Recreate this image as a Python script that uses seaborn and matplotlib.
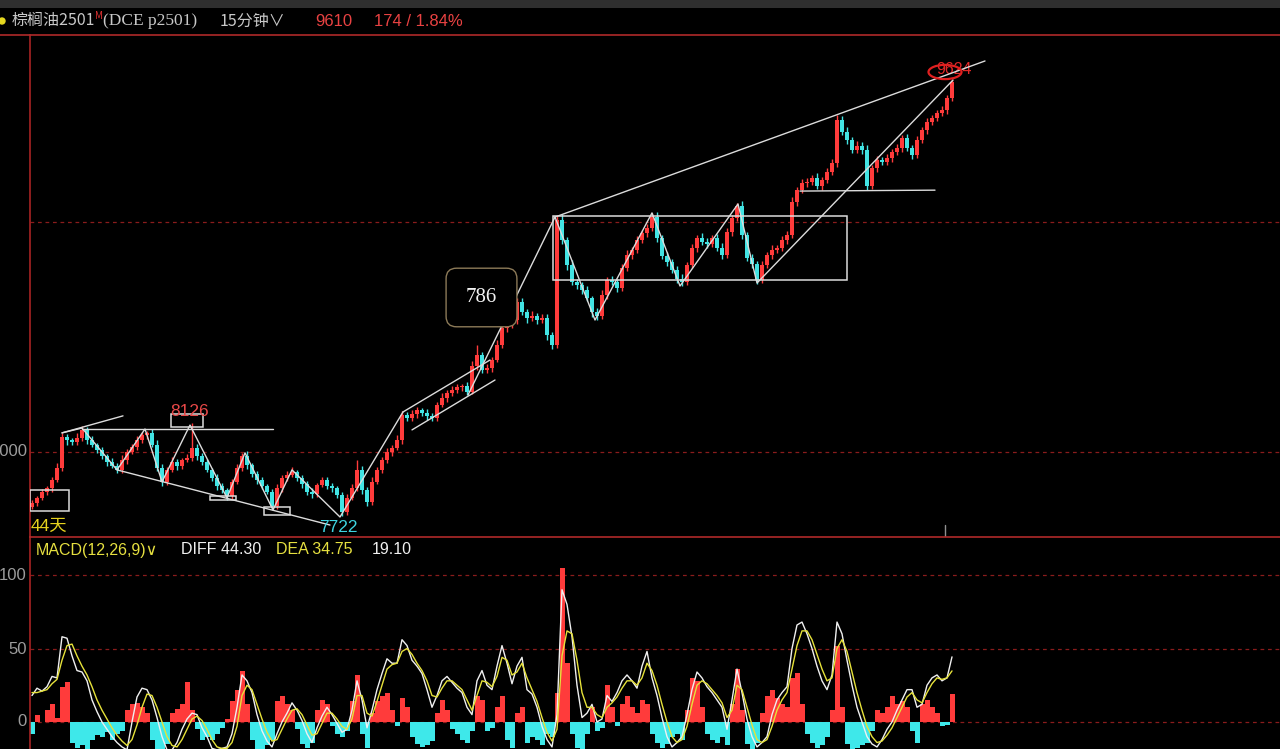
import numpy as np
import pandas as pd
import matplotlib
matplotlib.use("Agg")
import matplotlib.pyplot as plt
import seaborn as sns
from matplotlib.patches import Rectangle, Ellipse
from matplotlib.lines import Line2D

# ---------------- data ----------------
first_open = 7760
closes = [
    7778, 7800, 7826, 7843, 7878, 7930, 8065, 8052, 8044, 8061,
    8096, 8052, 8030, 8009, 7983, 7956, 7939, 7922, 7965, 8000,
    8022, 8052, 8074, 8083, 8030, 7930, 7869, 7922, 7956, 7939,
    7965, 7974, 8017, 7983, 7956, 7922, 7887, 7852, 7835, 7809,
    7869, 7930, 7983, 7943, 7904, 7878, 7852, 7826, 7765, 7843,
    7887, 7900, 7913, 7887, 7861, 7826, 7817, 7856, 7878, 7852,
    7843, 7813, 7739, 7800, 7843, 7922, 7835, 7782, 7869, 7922,
    7965, 8000, 8017, 8052, 8161, 8148, 8165, 8183, 8170, 8157,
    8148, 8204, 8235, 8257, 8270, 8283, 8287, 8261, 8374, 8422,
    8357, 8365, 8400, 8465, 8539, 8552, 8574, 8653, 8609, 8583,
    8592, 8574, 8583, 8509, 8465, 9009, 8922, 8813, 8740, 8726,
    8705, 8670, 8609, 8592, 8683, 8748, 8740, 8713, 8800, 8857,
    8879, 8922, 8953, 8974, 9022, 8931, 8853, 8827, 8792, 8753,
    8740, 8813, 8887, 8931, 8914, 8905, 8931, 8887, 8857, 8957,
    9018, 9070, 8944, 8844, 8818, 8748, 8813, 8857, 8879, 8887,
    8922, 8944, 9088, 9140, 9170, 9175, 9192, 9157, 9183, 9218,
    9257, 9444, 9392, 9357, 9314, 9331, 9314, 9157, 9235, 9270,
    9262, 9279, 9305, 9322, 9366, 9322, 9292, 9357, 9401, 9436,
    9453, 9475, 9488, 9540, 9610,
]
wick_up = [
    12, 10, 15, 8, 14, 20, 18, 15, 10, 22,
    15, 12, 18, 10, 14, 9, 16, 12, 20, 15,
    12, 18, 14, 10, 16, 22, 18, 14, 20, 12,
    10, 15, 109, 18, 12, 14, 10, 16, 12, 9,
    14, 18, 12, 20, 10, 12, 15, 10, 14, 18,
    12, 16, 20, 10, 14, 12, 18, 10, 15, 12,
    14, 10, 12, 15, 18, 43, 16, 12, 20, 14,
    12, 18, 15, 20, 16, 12, 18, 14, 10, 16,
    12, 15, 20, 14, 18, 12, 10, 16, 22, 43,
    15, 18, 12, 20, 16, 14, 22, 18, 15, 12,
    20, 14, 18, 16, 12, 18, 25, 15, 20, 12,
    14, 18, 10, 16, 20, 14, 18, 12, 16, 20,
    14, 18, 12, 16, 18, 20, 14, 18, 12, 16,
    20, 14, 18, 12, 20, 16, 14, 18, 22, 16,
    14, 13, 20, 14, 18, 12, 16, 14, 20, 12,
    16, 18, 20, 14, 18, 16, 12, 20, 14, 18,
    16, 22, 18, 20, 14, 20, 16, 20, 14, 18,
    12, 16, 14, 18, 12, 16, 14, 18, 12, 16,
    14, 12, 16, 12, 14,
]
wick_dn = [
    10, 14, 8, 12, 16, 10, 14, 20, 12, 15,
    12, 18, 10, 15, 12, 16, 10, 14, 12, 18,
    10, 14, 12, 16, 10, 14, 18, 12, 10, 16,
    14, 10, 12, 16, 14, 10, 12, 18, 14, 16,
    12, 10, 14, 18, 12, 16, 14, 10, 12, 14,
    16, 12, 10, 14, 18, 12, 16, 14, 10, 12,
    16, 14, 17, 12, 10, 14, 18, 16, 12, 10,
    14, 12, 16, 10, 18, 14, 12, 16, 14, 18,
    12, 14, 10, 16, 12, 14, 18, 12, 10, 16,
    14, 12, 18, 10, 14, 16, 12, 18, 14, 20,
    12, 16, 14, 20, 18, 12, 16, 20, 14, 18,
    16, 12, 20, 18, 14, 16, 12, 18, 14, 12,
    16, 14, 12, 18, 14, 16, 12, 18, 14, 20,
    16, 14, 12, 18, 14, 16, 12, 14, 18, 12,
    16, 14, 18, 12, 16, 18, 14, 12, 16, 14,
    12, 16, 14, 18, 12, 16, 14, 12, 18, 14,
    12, 16, 14, 18, 12, 14, 16, 17, 12, 18,
    14, 12, 16, 14, 18, 12, 16, 14, 12, 16,
    12, 14, 12, 16, 14,
]
diff = [
    18, 23, 21, 24, 31, 30, 58, 57, 45, 35,
    34, 28, 15, 7, 0, -5, -10, -14, -17, -19,
    0, 17, 23, 22, 15, 3, -10, -19, -19, -14,
    -5, 2, 6, 5, -4, -10, -18, -19, -18, -17,
    -8, 10, 32, 28, 20, 5, -6, -13, -17, -8,
    0, 6, 13, 8, 1, -8, -14, -4, 4, 10,
    5, -1, -7, -5, 8, 28, 15, -4, 8, 22,
    33, 43, 40, 40, 56, 52, 42, 38, 33, 22,
    10, 18, 28, 31, 27, 23, 20, 10, 5, 28,
    35, 25, 22, 38, 52, 40, 26, 38, 44, 22,
    19, 10, -3, -12, -17, 5, 90, 80, 58, 25,
    3, 6, 12, 0, 2, 18, 14, 20, 28, 32,
    28, 23, 38, 48, 30, 18, 3, -10, -17, -14,
    -10, 5, 22, 34, 30, 24, 20, 15, 10, -5,
    15, 36, 20, 2, -10, -17, -14, -10, 5, 15,
    20, 24, 50, 66, 68, 60, 50, 38, 28, 22,
    32, 68, 60, 42, 25, 10, 0, -10, -15, -17,
    -12, -5, 0, 8, 15, 22, 22, 10, 12, 25,
    30, 32, 28, 30, 44.30,
]
dea = [
    20, 20, 21, 22, 26, 29, 42, 52, 53, 45,
    38, 32, 24, 15, 8, 2, -4, -9, -13, -16,
    -12, -2, 10, 19, 18, 10, 0, -10, -16, -17,
    -12, -5, 2, 4, 1, -5, -12, -17, -18, -18,
    -14, -3, 18, 25, 22, 12, 2, -7, -13, -12,
    -5, 2, 8, 9, 5, -2, -9, -8, -1, 6,
    6, 2, -3, -5, 2, 18, 18, 6, 4, 14,
    25, 36, 39, 40, 48, 50, 46, 40, 35, 28,
    18, 17, 23, 28, 28, 25, 22, 15, 8, 18,
    28, 27, 24, 31, 44, 42, 32, 34, 40, 30,
    22, 14, 3, -7, -13, -5, 45, 62, 60, 42,
    20, 10, 10, 5, 3, 10, 13, 17, 23, 28,
    28, 25, 30, 40, 35, 25, 12, 0, -10, -14,
    -12, -3, 12, 25, 28, 26, 22, 18, 13, 3,
    8, 25, 22, 10, -2, -12, -14, -12, -3, 8,
    15, 20, 36, 52, 62, 62, 56, 46, 36, 28,
    30, 50, 56, 48, 34, 20, 8, -3, -10, -14,
    -13, -9, -4, 3, 10, 17, 20, 15, 13, 20,
    26, 30, 29, 30, 34.75,
]
macd_hist = [
    -8, 5, 0, 8, 12, 3, 24, 27, -14, -18,
    -16, -19, -12, -9, -10, -7, -12, -8, -6, 8,
    12, 13, 10, 6, -12, -19, -20, -15, 6, 9,
    12, 27, 8, -5, -12, -10, -12, -8, -4, 2,
    14, 22, 35, 12, -12, -20, -19, -16, -12, 14,
    18, 12, 8, -5, -15, -18, -14, 8, 15, 12,
    -3, -8, -10, -6, 14, 32, -8, -18, 6, 14,
    18, 20, 8, -3, 16, 10, -10, -15, -17, -16,
    -13, 6, 15, 8, -5, -8, -12, -14, -6, 18,
    15, -6, -4, 10, 18, -12, -18, 6, 10, -14,
    -10, -12, -16, -8, -10, 20, 105, 40, -8, -18,
    -20, -8, 10, -6, -4, 25, 10, -3, 12, 18,
    10, 6, 15, 12, -8, -14, -18, -15, -10, -8,
    -12, 8, 30, 28, 10, -8, -12, -14, -10, -16,
    12, 36, 8, -15, -20, -14, 6, 18, 22, 16,
    12, 10, 30, 33, 12, -8, -14, -18, -16, -10,
    8, 52, 10, -15, -20, -18, -16, -14, -6, 8,
    6, 10, 18, 12, 14, 10, -6, -14, 12, 15,
    10, 6, -3, -2, 19.10,
]
price_ticks = [8000, 9000]
macd_ticks = [100, 50, 0]

# drawn annotations (bar index, price)
zigzag_x = [6, 10, 17, 22.6, 26, 31.6, 39, 42.6, 48.2, 52, 61.6, 74.2]
zigzag_y = [8083, 8104, 7922, 8100, 7870, 8117, 7800, 7996, 7748, 7922, 7717, 8174]
box_zig_x = [104.6, 112.6, 124, 129.6, 141.2, 145, 184.2]
box_zig_y = [9022, 8574, 9040, 8722, 9079, 8735, 9618]
seg_lines = [
    ((6, 8083), (18.2, 8157)),
    ((10, 8100), (48.2, 8100)),
    ((17, 7922), (59.6, 7682)),
    ((74.2, 8174), (91.6, 8400)),
    ((76, 8096), (92.6, 8313)),
    ((87.2, 8248), (104.6, 9022)),
    ((104.6, 9022), (190.6, 9701)),
    ((153.6, 9135), (180.6, 9139)),
]
rects = [  # x0, x1, y0, y1
    (-0.4, 7.4, 7743, 7835),
    (27.8, 34.2, 8109, 8165),
    (35.6, 40.8, 7791, 7809),
    (46.4, 51.6, 7726, 7761),
    (104.2, 163.0, 8748, 9027),
]

# ---------------- styling ----------------
sns.set_theme(style="dark", rc={"axes.facecolor": "black", "figure.facecolor": "black"})
plt.rcParams["font.family"] = ["Liberation Sans", "Noto Sans CJK SC", "DejaVu Sans"]
CJK = ["Noto Sans CJK SC", "DejaVu Sans"]

UP = "#ff3b3b"
DN = "#42e4e4"
LINE = "#dcdcdc"
RED_AX = "#a82424"
GRID = "#8a1c1c"

n = len(closes)
idx = np.arange(n)
df = pd.DataFrame({"idx": idx, "open": [first_open] + closes[:-1], "close": closes})
df["top"] = df[["open", "close"]].max(axis=1)
df["bot"] = df[["open", "close"]].min(axis=1)
df["high"] = df["top"] + np.array(wick_up)
df["low"] = df["bot"] - np.array(wick_dn)
df["col"] = np.where(df["close"] >= df["open"], UP, DN)
df["body"] = np.maximum(df["top"] - df["bot"], 5)

W, H = 1280, 749
fx = lambda px: px / W
fy = lambda py: 1 - py / H

fig = plt.figure(figsize=(12.8, 7.49), dpi=100, facecolor="black")
ax = fig.add_axes([fx(30), fy(537), 1 - fx(30), (537 - 35) / H])
ax2 = fig.add_axes([fx(30), 0, 1 - fx(30), (749 - 537) / H])

for a in (ax, ax2):
    a.set_facecolor("black")
    a.set_xticks([])
    a.set_yticks([])
    a.set_xlabel("")
    a.set_ylabel("")
    for s in ("top", "right", "bottom"):
        a.spines[s].set_visible(False)
    a.spines["left"].set_color(RED_AX)
    a.spines["left"].set_linewidth(1.2)
    a.set_xlim(-0.4, 249.6)

ax.set_ylim(7630, 9814)
ax2.set_ylim(-18.4, 125.9)

# grid
for t in price_ticks:
    ax.axhline(t, color=GRID, ls=(0, (3, 3)), lw=0.9, zorder=0)
for t in macd_ticks:
    ax2.axhline(t, color=GRID, ls=(0, (3, 3)), lw=0.9, zorder=0)

# candles
ax.vlines(df["idx"], df["low"], df["high"], colors=df["col"], lw=1.0, zorder=2)
ax.bar(df["idx"], df["body"], bottom=df["bot"], width=0.78, color=df["col"], lw=0, zorder=3)

# annotations
ax.plot(zigzag_x, zigzag_y, color=LINE, lw=1.0, zorder=4)
ax.plot(box_zig_x, box_zig_y, color=LINE, lw=1.0, zorder=4)
for (x0, y0), (x1, y1) in seg_lines:
    ax.plot([x0, x1], [y0, y1], color=LINE, lw=1.0, zorder=4)
for x0, x1, y0, y1 in rects:
    ax.add_patch(Rectangle((x0, y0), x1 - x0, y1 - y0, fill=False, ec=LINE, lw=1.1, zorder=4))

ax.text(31.6, 8176, "8126", color="#e84848", fontsize=12.5, ha="center", va="center", zorder=5)
ax.text(61.2, 7672, "7722", color="#3fd4e0", fontsize=12.5, ha="center", va="center", zorder=5)
ax.text(3.4, 7676, "44天", color="#e6d21e", fontsize=12.5, ha="center", va="center",
        family=["Liberation Sans", "Noto Sans CJK SC"], zorder=5)
ax.text(184.4, 9664, "9624", color="#e02828", fontsize=11.5, ha="center", va="center", zorder=3)
ax.add_patch(Ellipse((182.6, 9653), 6.6, 62, fill=False, ec="#e02020", lw=1.6, zorder=5))
ax.text(89.9, 8672, "786", color="#f2f2f2", fontsize=15, ha="center", va="center",
        family=["Liberation Serif", "DejaVu Serif"], zorder=5,
        bbox=dict(boxstyle="round,pad=0.95,rounding_size=0.5", fc="black", ec="#8c7a58", lw=1.0))
ax.plot([182.6, 182.6], [7630, 7682], color="#909090", lw=1.0, zorder=4)

# MACD
hist = np.array(macd_hist)
ax2.bar(idx, hist, width=1.0, color=np.where(hist >= 0, UP, "#3ee8ea"), lw=0, zorder=1)
sns.lineplot(x=idx, y=diff, ax=ax2, color="#f0f0f0", lw=1.0, zorder=3, legend=False)
sns.lineplot(x=idx, y=dea, ax=ax2, color="#e6e23a", lw=1.0, zorder=3, legend=False)
ax2.set_xlabel("")
ax2.set_ylabel("")
ax2.set_xticks([])
ax2.set_yticks([])

# axis labels (the price label is cut at the left edge like the screenshot)
fig.text(fx(27), fy(452), "8000", ha="right", va="center", color="#9c9c9c", fontsize=12)
fig.text(fx(27), fy(575), "100", ha="right", va="center", color="#9c9c9c", fontsize=12)
fig.text(fx(27), fy(649), "50", ha="right", va="center", color="#9c9c9c", fontsize=12)
fig.text(fx(27), fy(722), "0", ha="right", va="center", color="#9c9c9c", fontsize=12)

# frame lines
fig.add_artist(Rectangle((0, fy(8)), 1, 8 / H, transform=fig.transFigure, color="#2f2f2f", lw=0))
fig.add_artist(Line2D([0, 1], [fy(34.5), fy(34.5)], color="#b02a2a", lw=1.2))
fig.add_artist(Line2D([fx(30), 1], [fy(537), fy(537)], color="#b02a2a", lw=1.2))

# header
fig.add_artist(Ellipse((fx(2), fy(21)), 6 / W, 6 / H, transform=fig.transFigure, color="#e6d820"))
fig.text(fx(12), fy(21), "棕榈油2501", color="#c8c8c8", fontsize=11.5, va="center", family=CJK)
fig.text(fx(95), fy(16), "M", color="#e03030", fontsize=7, va="center", family=CJK)
fig.text(fx(103), fy(21), "(DCE p2501)", color="#c8c8c8", fontsize=12.5, va="center",
         family=["Liberation Serif", "DejaVu Serif"])
fig.text(fx(220), fy(21), "15分钟∨", color="#c8c8c8", fontsize=11.5, va="center", family=CJK)
fig.text(fx(315), fy(21), "9610", color="#e84242", fontsize=12, va="center")
fig.text(fx(374), fy(21), "174 / 1.84%", color="#e84242", fontsize=12, va="center")

fig.text(fx(36), fy(550), "MACD(12,26,9)∨", color="#e6e040", fontsize=11.5, va="center",
         family=["Liberation Sans", "DejaVu Sans"])
fig.text(fx(181), fy(550), "DIFF 44.30", color="#f0f0f0", fontsize=11.5, va="center")
fig.text(fx(276), fy(550), "DEA 34.75", color="#e6e040", fontsize=11.5, va="center")
fig.text(fx(372), fy(550), "19.10", color="#f0f0f0", fontsize=11.5, va="center")

fig.savefig("out.png", dpi=100, facecolor="black")
